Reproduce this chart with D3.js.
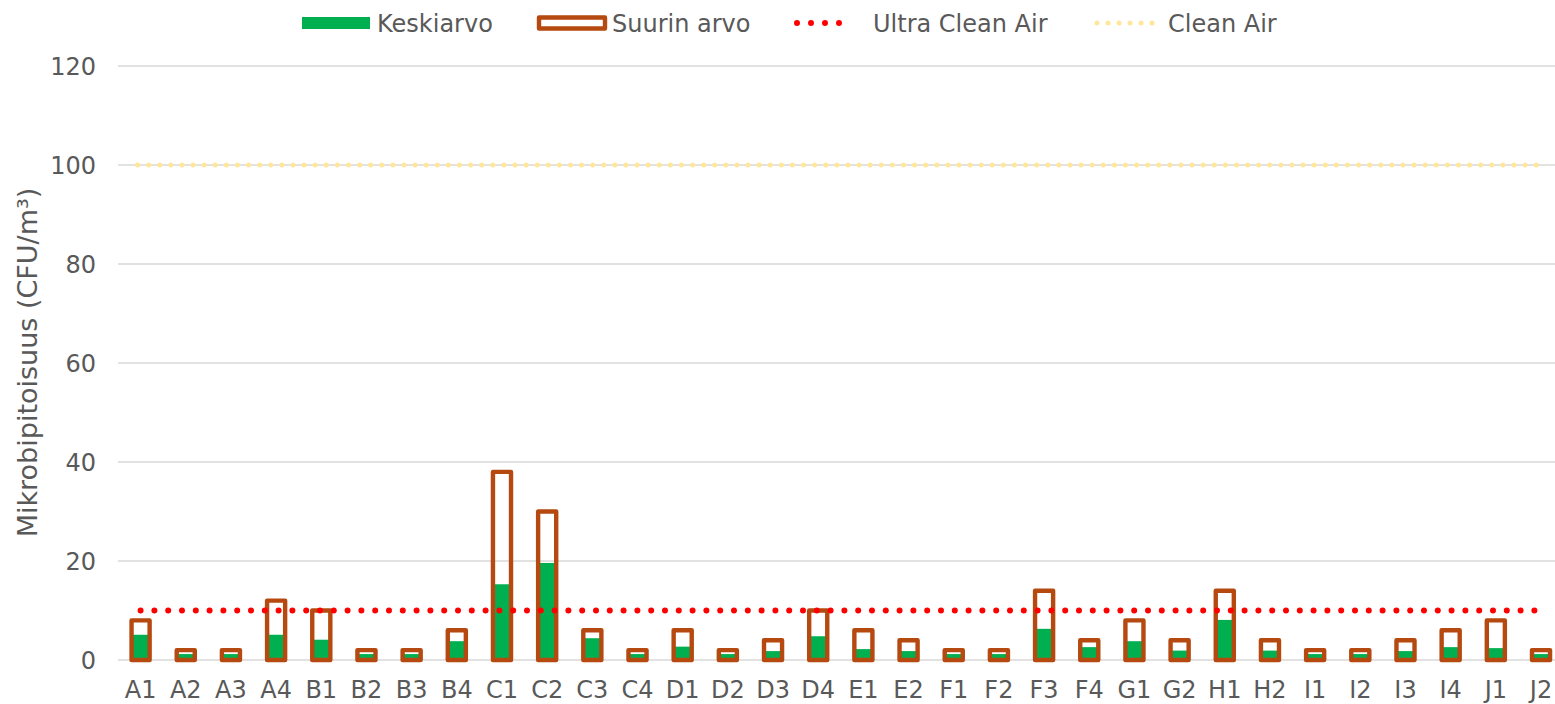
<!DOCTYPE html>
<html><head><meta charset="utf-8">
<script src="https://cdn.jsdelivr.net/npm/d3@7"></script>
<style>
html,body{margin:0;padding:0;background:#fff;}
svg{display:block;font-family:"DejaVu Sans",Verdana,sans-serif;}
</style></head>
<body>
<svg id="chart" width="1555" height="704"></svg>
<script>
const categories = ["A1","A2","A3","A4","B1","B2","B3","B4","C1","C2","C3","C4","D1","D2","D3","D4","E1","E2","F1","F2","F3","F4","G1","G2","H1","H2","I1","I2","I3","I4","J1","J2"];
const keskiarvo = [5.1,1.2,1.2,5.1,4.1,1.2,1.2,3.8,15.3,19.6,4.4,1.2,2.7,1.2,1.8,4.8,2.2,1.8,1.2,1.2,6.3,2.6,3.8,1.9,8.1,1.9,1.2,1.2,1.8,2.6,2.4,1.2];
const suurinArvo = [8,2,2,12,10,2,2,6,38,30,6,2,6,2,4,10,6,4,2,2,14,4,8,4,14,4,2,2,4,6,8,2];
const ultraCleanAir = 10;
const cleanAir = 100;
const yTicks = [0,20,40,60,80,100,120];
const seriesNames = ["Keskiarvo","Suurin arvo","Ultra Clean Air","Clean Air"];

const svg = d3.select("#chart");
const textColor = "#595959";
const fs = 24;
const x = d3.scaleBand().domain(categories).range([118, 1563.6]).padding(0);
const y = d3.scaleLinear().domain([0,120]).range([660, 66]);
const bw = x.bandwidth()/2.5;
const cx = d => x(d) + x.bandwidth()/2;

// gridlines
svg.append("g").selectAll("line").data(yTicks).join("line")
  .attr("x1",118).attr("x2",1555)
  .attr("y1",d=>y(d)).attr("y2",d=>y(d))
  .attr("stroke","#d9d9d9").attr("stroke-width",1.5);

// y axis tick labels
svg.append("g").selectAll("text").data(yTicks).join("text")
  .attr("x",96).attr("y",d=>y(d)).attr("dy","0.36em")
  .attr("text-anchor","end").attr("fill",textColor).attr("font-size",fs)
  .text(d=>d);

// x labels
svg.append("g").selectAll("text").data(categories).join("text")
  .attr("x",d=>cx(d)).attr("y",698)
  .attr("text-anchor","middle").attr("fill",textColor).attr("font-size",fs)
  .text(d=>d);

// y title
svg.append("text").attr("transform","translate(36.5,362.5) rotate(-90)")
  .attr("text-anchor","middle").attr("fill",textColor)
  .attr("font-size",27).text("Mikrobipitoisuus (CFU/m³)");

// green bars
svg.append("g").selectAll("rect").data(categories).join("rect")
  .attr("x",d=>cx(d)-bw/2).attr("width",bw)
  .attr("y",(d,i)=>y(keskiarvo[i])).attr("height",(d,i)=>y(0)-y(keskiarvo[i]))
  .attr("fill","#00B050");

// outline bars
svg.append("g").selectAll("rect").data(categories).join("rect")
  .attr("x",d=>cx(d)-bw/2).attr("width",bw)
  .attr("y",(d,i)=>y(suurinArvo[i])).attr("height",(d,i)=>y(0)-y(suurinArvo[i]))
  .attr("fill","none").attr("stroke","#B5490F").attr("stroke-width",4.4)
  .attr("stroke-linejoin","round");

// reference lines
const x0 = cx(categories[0]), x1 = cx(categories[categories.length-1]);
svg.append("line").attr("x1",x0-3).attr("x2",x1-3).attr("y1",y(cleanAir)).attr("y2",y(cleanAir))
  .attr("stroke","#FFE699").attr("stroke-width",5).attr("stroke-linecap","round")
  .attr("stroke-dasharray","0 11.1");
svg.append("line").attr("x1",x0).attr("x2",x1).attr("y1",y(ultraCleanAir)).attr("y2",y(ultraCleanAir))
  .attr("stroke","#FF0000").attr("stroke-width",6).attr("stroke-linecap","round")
  .attr("stroke-dasharray","0 13.8");

// legend
const lg = svg.append("g");
const ly = 23;
lg.append("rect").attr("x",302).attr("y",ly-6).attr("width",68).attr("height",12).attr("fill","#00B050");
lg.append("rect").attr("x",539).attr("y",ly-5.5).attr("width",66).attr("height",11).attr("fill","none")
  .attr("stroke","#B5490F").attr("stroke-width",4.4).attr("stroke-linejoin","round");
lg.append("line").attr("x1",797).attr("x2",853).attr("y1",ly).attr("y2",ly)
  .attr("stroke","#FF0000").attr("stroke-width",6).attr("stroke-linecap","round").attr("stroke-dasharray","0 14");
lg.append("line").attr("x1",1097).attr("x2",1163).attr("y1",ly).attr("y2",ly)
  .attr("stroke","#FFE699").attr("stroke-width",5).attr("stroke-linecap","round").attr("stroke-dasharray","0 11");
const legX = [377,612,873,1168];
lg.selectAll("text").data(seriesNames).join("text")
  .attr("x",(d,i)=>legX[i]).attr("y",ly).attr("dy","0.36em")
  .attr("fill",textColor).attr("font-size",fs).text(d=>d);
</script>
</body></html>
